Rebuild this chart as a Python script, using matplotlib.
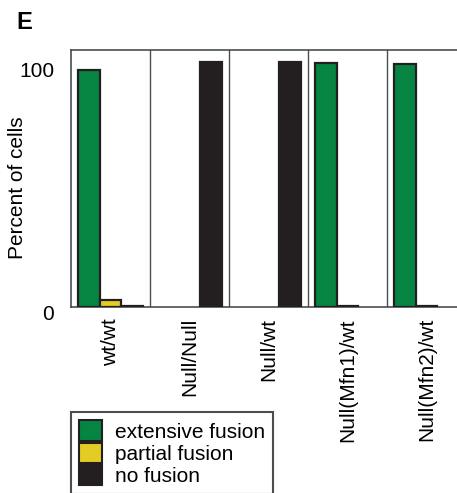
import matplotlib
matplotlib.use("Agg")
import matplotlib.pyplot as plt
import matplotlib.transforms as mtransforms
import numpy as np
from matplotlib.patches import Patch

plt.rcParams["font.family"] = ["Liberation Sans", "DejaVu Sans"]

# data (percent of cells)
genotypes = ["wt/wt", "Null/Null", "Null/wt", "Null(Mfn1)/wt", "Null(Mfn2)/wt"]
extensive = [100.0, 0.0, 0.0, 103.1, 102.7]
partial = [2.9, 0.0, 0.0, 0.6, 0.6]
no_fusion = [0.3, 103.5, 103.5, 0.0, 0.0]
series_names = ["extensive fusion", "partial fusion", "no fusion"]
colors = ["#068441", "#e3cc24", "#231f20"]

FS = 15

fig = plt.figure(figsize=(4.57, 4.93), dpi=100)
ax = fig.add_axes([71 / 457, 1 - 307 / 493, 395 / 457, 257 / 493])

x = np.arange(len(genotypes))
width = 0.272
for k, (vals, col) in enumerate(zip([extensive, partial, no_fusion], colors)):
    offs = (k - 1) * width
    for xi, v in zip(x, vals):
        if v <= 0:
            continue
        ax.bar(xi + offs, v, width, color=col, edgecolor="#231f20", linewidth=1.6,
               zorder=3)

# thin separators between genotype groups
for xi in x[:-1]:
    ax.axvline(xi + 0.5, color="#4a4f50", linewidth=1.0, zorder=1)

ax.set_xlim(-0.5, len(genotypes) - 0.5)
ax.set_ylim(0, 108.4)
for s in ax.spines.values():
    s.set_color("#3a3f40")
    s.set_linewidth(1.1)

ax.set_yticks([0, 100])
ax.set_yticklabels(["0", "100"], fontsize=FS)
ax.tick_params(axis="y", length=0, pad=12)
# the "0" label sits a little below the baseline in the original
lab0 = ax.get_yticklabels()[0]
lab0.set_transform(lab0.get_transform() +
                   mtransforms.ScaledTranslation(0, -5 / 100, fig.dpi_scale_trans))

ax.set_xticks(x)
ax.set_xticklabels(genotypes, rotation=90, fontsize=FS, va="top", ha="center")
ax.tick_params(axis="x", length=0, pad=8)

ax.set_ylabel("Percent of cells", fontsize=FS)
ax.yaxis.set_label_coords(-0.111, 0.463)

fig.text(16 / 457, 1 - 11 / 493, "E", fontsize=17, fontweight="bold", va="top")

handles = [Patch(facecolor=c, edgecolor="#231f20", linewidth=1.5) for c in colors]
leg = fig.legend(handles, series_names, loc="upper left",
                 bbox_to_anchor=(71 / 457, 1 - 412 / 493), fontsize=FS,
                 frameon=True, fancybox=False, borderpad=0.4, labelspacing=0.05,
                 handlelength=1.1, handleheight=1.12, handletextpad=0.6,
                 borderaxespad=0)
leg.get_frame().set_edgecolor("#231f20")
leg.get_frame().set_linewidth(1.5)

fig.savefig("out.png", dpi=100)
